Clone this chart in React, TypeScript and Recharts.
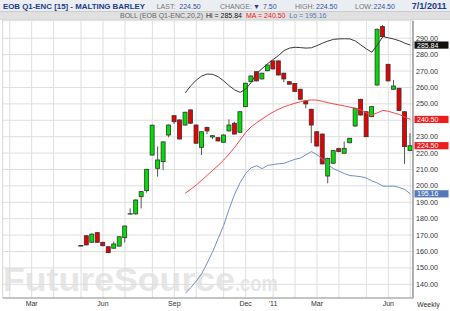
import { ComposedChart, Bar, Line, XAxis, YAxis, CartesianGrid, ReferenceLine } from 'recharts';

const FONT = '"Liberation Sans", Arial, sans-serif';

// week index 0 = first week of Feb 2010, one candle per week
const firstWeek = 13;
const opens = [
  163.5, 169.6, 165.6, 171.5, 165.6, 162.9, 162.0, 163.3, 168.4, 182.9,
  182.9, 193.4, 197.1, 218.8, 210.7, 214.8, 231.0, 242.8, 240.2, 237.1,
  246.3, 237.1, 223.5, 235.7, 229.8, 229.4, 226.6, 233.5, 238.2, 232.7,
  248.3, 263.5, 269.6, 265.2, 270.2, 276.2, 276.2, 268.7, 263.5, 262.4,
  258.9, 251.8, 246.7, 233.0, 231.6, 206.0, 213.8, 222.7, 219.9, 226.3,
  236.5, 252.8, 245.2, 242.2, 261.5, 297.1, 274.1, 258.9, 259.5, 245.2,
  221.5,
];
const closes = [
  163.5, 164.0, 170.6, 165.6, 163.5, 159.3, 164.6, 169.0, 175.5, 182.9,
  191.4, 196.5, 210.1, 237.0, 215.8, 226.8, 237.1, 239.1, 228.6, 244.9,
  238.2, 226.0, 233.0, 233.5, 230.6, 227.4, 231.0, 237.1, 231.6, 245.2,
  262.6, 267.0, 264.0, 268.7, 273.7, 271.3, 267.6, 265.2, 262.0, 257.6,
  252.8, 250.0, 237.1, 224.3, 213.4, 216.8, 221.5, 220.9, 222.9, 229.0,
  247.3, 243.2, 230.0, 248.3, 295.5, 291.0, 264.0, 260.9, 245.9, 223.9,
  224.5,
];
const highs = [
  163.8, 170.0, 171.0, 171.8, 165.9, 163.2, 166.0, 169.3, 175.8, 186.3,
  191.7, 196.8, 210.4, 237.3, 224.0, 227.1, 237.4, 243.1, 240.5, 245.2,
  246.6, 237.4, 233.3, 236.0, 230.9, 229.7, 231.3, 240.6, 239.1, 245.5,
  262.9, 267.3, 269.9, 269.0, 274.0, 276.5, 276.5, 269.0, 263.8, 262.7,
  259.2, 252.1, 247.0, 233.3, 231.9, 217.1, 221.8, 223.2, 227.0, 229.3,
  247.6, 253.1, 245.5, 248.6, 295.8, 298.1, 274.4, 264.6, 259.8, 245.5,
  232.1,
];
const lows = [
  163.2, 163.8, 165.3, 165.3, 163.2, 159.0, 161.8, 163.0, 165.4, 182.6,
  182.6, 186.3, 195.9, 218.5, 205.6, 209.7, 229.6, 237.7, 228.3, 236.8,
  237.9, 225.7, 218.8, 231.6, 228.5, 227.1, 226.3, 233.2, 231.3, 232.4,
  248.0, 263.2, 263.7, 264.9, 269.9, 271.0, 267.3, 263.2, 261.7, 257.3,
  252.5, 247.3, 226.0, 224.0, 213.1, 201.6, 213.5, 220.4, 219.6, 226.0,
  236.2, 242.9, 229.7, 241.9, 261.2, 290.7, 263.7, 258.6, 245.6, 213.4,
  221.2,
];

// Bollinger (20,2) starts once 20 weeks are available
const bandStart = 32;
const upperBand = [
  256.7, 261.0, 264.5, 267.0, 268.2, 268.0, 266.5, 264.0, 261.0, 258.5,
  257.0, 259.0, 263.0, 268.5, 271.5, 274.5, 277.0, 279.5, 282.5, 284.0,
  284.5, 284.3, 284.0, 284.2, 285.5, 287.0, 288.3, 289.3, 289.6, 289.7,
  289.6, 288.3, 285.9, 283.5, 281.5, 285.9, 291.0, 290.3, 289.5, 288.5,
  287.0, 285.84,
];
const midBand = [
  195.5, 198.0, 200.5, 203.5, 206.5, 209.5, 212.5, 215.8, 219.5, 223.5,
  228.0, 232.5, 236.0, 238.5, 240.8, 243.0, 245.0, 246.7, 248.2, 249.3,
  250.4, 251.3, 252.0, 252.4, 252.3, 251.5, 250.7, 250.0, 249.4, 248.7,
  248.0, 247.3, 246.3, 244.5, 243.2, 244.5, 246.0, 245.5, 244.5, 243.5,
  242.0, 240.5,
];
const lowerBand = [
  134.5, 138.0, 142.0, 146.5, 153.0, 160.0, 168.0, 176.0, 186.0, 195.0,
  202.0, 207.5, 211.0, 212.3, 210.5, 212.5, 213.0, 213.5, 213.8, 215.0,
  216.2, 217.0, 219.0, 220.9, 219.0, 216.5, 213.0, 210.5, 209.0, 207.5,
  206.3, 206.0, 205.6, 204.8, 203.0, 201.8, 199.8, 199.8, 199.9, 199.0,
  197.8, 195.16,
];

const monthTicks = [0, 4, 8, 13, 17, 21, 26, 30, 34, 39, 43, 48, 52, 56, 60, 65, 69, 73];
const monthLabels: Record<number, string> = { 4: 'Mar', 17: 'Jun', 30: 'Sep', 43: 'Dec', 48: "'11", 56: 'Mar', 69: 'Jun' };
const priceTicks = [140, 150, 160, 170, 180, 190, 200, 210, 220, 230, 240, 250, 260, 270, 280, 290];

const lastTags = [
  { value: 285.84, bg: '#111111' },
  { value: 240.5, bg: '#ee1c1c' },
  { value: 224.5, bg: '#ee1c1c' },
  { value: 195.16, bg: '#5279b6' },
];

const rows = opens.map((o, k) => {
  const week = firstWeek + k;
  const b = week - bandStart;
  return {
    week,
    open: o,
    close: closes[k],
    high: highs[k],
    low: lows[k],
    range: [lows[k], highs[k]],
    upper: b >= 0 ? upperBand[b] : null,
    ma: b >= 0 ? midBand[b] : null,
    lower: b >= 0 ? lowerBand[b] : null,
  };
});

const Candle = (props: any) => {
  const { x, y, width, height, payload } = props;
  if (!payload) return null;
  const { open, close, high, low } = payload;
  const top = Math.min(y, y + height);
  const h = Math.abs(height);
  const ratio = high - low > 0 ? h / (high - low) : 0;
  const yOf = (v: number) => top + (high - v) * ratio;
  const cx = x + width / 2;
  const bTop = yOf(Math.max(open, close));
  const bBot = yOf(Math.min(open, close));
  const flat = Math.abs(close - open) < 0.05;
  return (
    <g>
      <line x1={cx} x2={cx} y1={top} y2={top + h} stroke="#555" strokeWidth={1} />
      {flat ? (
        <line x1={cx - 2.5} x2={cx + 2.5} y1={bTop} y2={bTop} stroke="#333" strokeWidth={1.3} />
      ) : (
        <rect
          x={cx - 2}
          y={bTop}
          width={4}
          height={Math.max(1, bBot - bTop)}
          fill={close >= open ? '#00e000' : '#e80000'}
          stroke="#333"
          strokeWidth={0.8}
        />
      )}
    </g>
  );
};

// price labels hidden where a last-value tag sits on top of them
const PriceTick = (props: any) => {
  const { x, y, payload } = props;
  const v = payload.value as number;
  if (lastTags.some((t) => Math.abs(t.value - v) < 2.5)) return <g />;
  return (
    <text x={x} y={y} dy="0.35em" textAnchor="start" fontSize={7.2} fill="#333" fontFamily={FONT}>
      {v.toFixed(2)}
    </text>
  );
};

const Tag = (props: any) => {
  const { viewBox, bg, value } = props;
  if (!viewBox) return null;
  const x0 = viewBox.x + viewBox.width + 1.5;
  const y0 = viewBox.y;
  return (
    <g>
      <rect x={x0} y={y0 - 3.6} width={34} height={7.2} fill={bg} />
      <text x={x0 + 2.5} y={y0 + 2.5} fontSize={7} fill="#fff" fontFamily={FONT}>
        {value.toFixed(2)}
      </text>
    </g>
  );
};

export default function App() {
  return (
    <div style={{ position: 'fixed', left: 0, top: 0, width: 450, height: 311, background: '#fff', fontFamily: FONT }}>
      <svg width={450} height={311} style={{ position: 'absolute', left: 0, top: 0 }}>
        <text x={3} y={291} fontSize={33} fontWeight="bold" fill="#e6e6e6" fontFamily={FONT} textLength={232} lengthAdjust="spacingAndGlyphs">
          FutureSource
        </text>
        <text x={235} y={291} fontSize={22} fontWeight="bold" fill="#e6e6e6" fontFamily={FONT} textLength={43} lengthAdjust="spacingAndGlyphs">
          .com
        </text>
        <line x1={2.5} x2={2.5} y1={20} y2={298} stroke="#d4d4d4" />
        <text x={417} y={306.5} fontSize={7} fill="#333" fontFamily={FONT}>Weekly</text>
      </svg>

      <div style={{ position: 'absolute', left: 0, top: 20 }}>
        <ComposedChart width={450} height={291} data={rows} margin={{ top: 0.7, right: 0, bottom: 0, left: 2.7 }}>
          <CartesianGrid stroke="#dedede" strokeWidth={1} />
          <XAxis
            dataKey="week"
            type="number"
            domain={[-1.28, 73.5]}
            ticks={monthTicks}
            interval={0}
            allowDataOverflow
            tickFormatter={(w: number) => monthLabels[w] ?? ''}
            tickLine={false}
            tickSize={0}
            tickMargin={3}
            height={13}
            axisLine={{ stroke: '#9a9a9a', strokeWidth: 1.2 }}
            tick={{ fontSize: 7, fill: '#333', fontFamily: FONT }}
          />
          <YAxis
            orientation="right"
            type="number"
            domain={[131.65, 300.7]}
            ticks={priceTicks}
            interval={0}
            allowDataOverflow
            width={37}
            tickLine={false}
            tickSize={0}
            tickMargin={3}
            axisLine={{ stroke: '#9a9a9a', strokeWidth: 1.5 }}
            tick={(p: any) => <PriceTick {...p} />}
          />
          <Bar dataKey="range" barSize={5} isAnimationActive={false} shape={(p: any) => <Candle {...p} />} />
          <Line dataKey="upper" type="linear" stroke="#3a3a3a" strokeWidth={1} dot={false} isAnimationActive={false} />
          <Line dataKey="ma" type="linear" stroke="#ff4444" strokeWidth={1} dot={false} isAnimationActive={false} />
          <Line dataKey="lower" type="linear" stroke="#7090c4" strokeWidth={1} dot={false} isAnimationActive={false} />
          {lastTags.map((t) => (
            <ReferenceLine
              key={t.value}
              y={t.value}
              stroke="none"
              label={(p: any) => <Tag {...p} bg={t.bg} value={t.value} />}
            />
          ))}
        </ComposedChart>
      </div>

      <svg width={450} height={20} style={{ position: 'absolute', left: 0, top: 0 }}>
        <rect x={0} y={0} width={450} height={11.5} fill="#eaedf1" />
        <rect x={0} y={11.5} width={450} height={8.8} fill="#e0e0e0" />
        <line x1={0} x2={450} y1={11.5} y2={11.5} stroke="#c4c4c4" strokeWidth={0.8} />
        <line x1={0} x2={450} y1={20.2} y2={20.2} stroke="#c4c4c4" strokeWidth={0.8} />
        <text x={3} y={9.3} fontSize={8} fontWeight="bold" fill="#1d3b8b" fontFamily={FONT} textLength={142} lengthAdjust="spacingAndGlyphs">
          EOB Q1-ENC [15] - MALTING BARLEY
        </text>
        <g fontSize={7} fontFamily={FONT}>
          <text x={156.7} y={9} fill="#777">LAST:</text>
          <text x={179.3} y={9} fill="#2f55a4">224.50</text>
          <text x={220} y={9} fill="#777">CHANGE:</text>
          <text x={253} y={9} fill="#1d3b8b">▼</text>
          <text x={263} y={9} fill="#2f55a4">7.50</text>
          <text x={295} y={9} fill="#777">HIGH:</text>
          <text x={316} y={9} fill="#2f55a4">224.50</text>
          <text x={355} y={9} fill="#777">LOW:</text>
          <text x={373.5} y={9} fill="#2f55a4">224.50</text>
        </g>
        <text x={411.7} y={9.3} fontSize={9} fontWeight="bold" fill="#1d3b8b" fontFamily={FONT} textLength={35} lengthAdjust="spacingAndGlyphs">
          7/1/2011
        </text>
        <g fontSize={7} fontFamily={FONT}>
          <text x={120} y={17.7} fill="#666">BOLL (EOB Q1-ENC,20,2)</text>
          <text x={206} y={17.7} fill="#111">Hi = 285.84</text>
          <text x={246} y={17.7} fill="#ee1c1c">MA = 240.50</text>
          <text x={289.3} y={17.7} fill="#5279b6">Lo = 195.16</text>
        </g>
      </svg>
    </div>
  );
}
